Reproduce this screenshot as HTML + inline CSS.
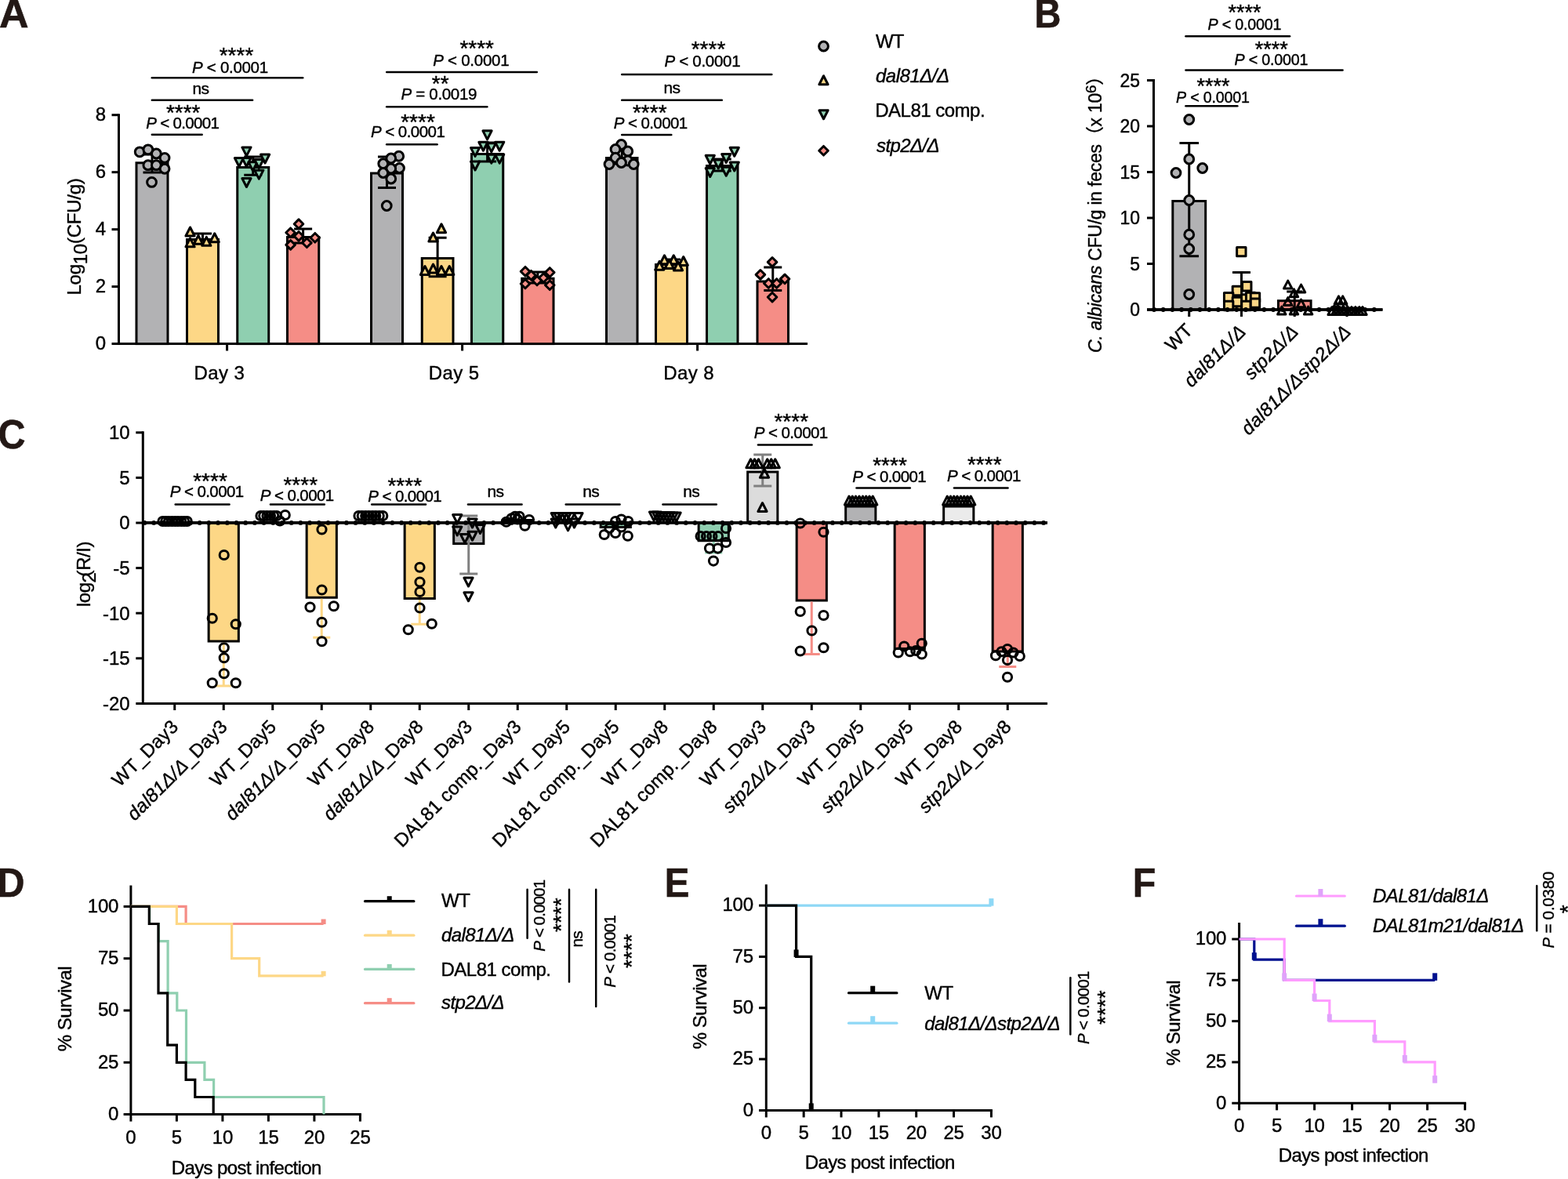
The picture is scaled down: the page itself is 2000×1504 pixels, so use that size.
<!DOCTYPE html>
<html lang="en"><head><meta charset="utf-8"><title>Figure</title>
<style>
html,body{margin:0;padding:0;background:#fff;}
body{width:2000px;height:1504px;overflow:hidden;}
svg{display:block;}
svg text{font-family:"Liberation Sans","Noto Sans CJK SC",sans-serif;stroke:#000;stroke-width:0.4px;fill:#000;}
</style></head><body>
<svg width="2000" height="1504" viewBox="0 0 2000 1504" font-size="24" fill="#000" stroke="none">
<text transform="translate(-1 34.7) scale(1.02 1)" font-size="51" font-weight="bold" style="fill:#231815;stroke:#231815;stroke-width:0.6px">A</text>
<text transform="translate(1319.6 34.7) scale(0.92 1)" font-size="51" font-weight="bold" style="fill:#231815;stroke:#231815;stroke-width:0.6px">B</text>
<text transform="translate(-2.5 572) scale(0.95 1)" font-size="51" font-weight="bold" style="fill:#231815;stroke:#231815;stroke-width:0.6px">C</text>
<text transform="translate(-3.5 1143.8) scale(0.95 1)" font-size="51" font-weight="bold" style="fill:#231815;stroke:#231815;stroke-width:0.6px">D</text>
<text transform="translate(847.75 1144) scale(0.93 1)" font-size="51" font-weight="bold" style="fill:#231815;stroke:#231815;stroke-width:0.6px">E</text>
<text transform="translate(1444.7 1144) scale(0.95 1)" font-size="51" font-weight="bold" style="fill:#231815;stroke:#231815;stroke-width:0.6px">F</text>
<g stroke="#000" stroke-width="3" fill="none" stroke-linejoin="miter">
<path d="M151.5 145.18V440.1"/>
<path d="M142.5 438.6H1030"/>
<path d="M142.5 365.62H151.5"/>
<path d="M142.5 292.64H151.5"/>
<path d="M142.5 219.66H151.5"/>
<path d="M142.5 146.68H151.5"/>
<path d="M289.6 438.6V447.5"/>
<path d="M589.6 438.6V447.5"/>
<path d="M889.6 438.6V447.5"/>
</g>
<text text-anchor="end" x="135" y="446.4">0</text>
<text text-anchor="end" x="135" y="373.42">2</text>
<text text-anchor="end" x="135" y="300.44">4</text>
<text text-anchor="end" x="135" y="227.46">6</text>
<text text-anchor="end" x="135" y="154.48">8</text>
<text text-anchor="middle" letter-spacing="0.4" x="279.8" y="483.5">Day 3</text>
<text text-anchor="middle" letter-spacing="0.4" x="579.2" y="483.5">Day 5</text>
<text text-anchor="middle" letter-spacing="0.4" x="878.7" y="483.5">Day 8</text>
<text text-anchor="middle" letter-spacing="-0.25" transform="translate(103 302) rotate(-90)">Log<tspan dy="7.5">10</tspan><tspan dy="-7.5">(CFU/g)</tspan></text>
<g stroke="#000" stroke-width="3" fill="none" stroke-linejoin="round">
<rect x="174" y="207.75" width="40" height="230.85" fill="#b2b2b4" stroke-linejoin="miter"/>
<rect x="238.5" y="305.5" width="40" height="133.1" fill="#fdd786" stroke-linejoin="miter"/>
<rect x="302.75" y="213.5" width="40" height="225.1" fill="#8fcfb0" stroke-linejoin="miter"/>
<rect x="366.5" y="302.5" width="40.25" height="136.1" fill="#f58d86" stroke-linejoin="miter"/>
<rect x="473.5" y="221" width="40" height="217.6" fill="#b2b2b4" stroke-linejoin="miter"/>
<rect x="538.25" y="329.5" width="39.75" height="109.1" fill="#fdd786" stroke-linejoin="miter"/>
<rect x="601.5" y="196.5" width="40.25" height="242.1" fill="#8fcfb0" stroke-linejoin="miter"/>
<rect x="665.75" y="355.25" width="40.25" height="83.35" fill="#f58d86" stroke-linejoin="miter"/>
<rect x="773.5" y="201.5" width="39.5" height="237.1" fill="#b2b2b4" stroke-linejoin="miter"/>
<rect x="836.5" y="337.5" width="40" height="101.1" fill="#fdd786" stroke-linejoin="miter"/>
<rect x="901.5" y="211.5" width="39.5" height="227.1" fill="#8fcfb0" stroke-linejoin="miter"/>
<rect x="966" y="359" width="39.5" height="79.6" fill="#f58d86" stroke-linejoin="miter"/>
<path d="M194 197V220M182.5 197H205.5M182.5 220H205.5"/>
<circle cx="178.2" cy="193.79" r="5.9" fill="#b2b2b4"/>
<circle cx="188.86" cy="190.8" r="5.9" fill="#b2b2b4"/>
<circle cx="199.39" cy="196" r="5.9" fill="#b2b2b4"/>
<circle cx="210.05" cy="201.46" r="5.9" fill="#b2b2b4"/>
<circle cx="188.86" cy="210.69" r="5.9" fill="#b2b2b4"/>
<circle cx="199.39" cy="210.69" r="5.9" fill="#b2b2b4"/>
<circle cx="210.05" cy="215.24" r="5.9" fill="#b2b2b4"/>
<circle cx="193.54" cy="232.4" r="5.9" fill="#b2b2b4"/>
<path d="M258.5 298V306.5M247 298H270M247 306.5H270"/>
<path d="M242.55 289.96L248.15 300.96L236.95 300.96Z" fill="#fdd786"/>
<path d="M273.75 297.76L279.35 308.76L268.15 308.76Z" fill="#fdd786"/>
<path d="M242.55 303.87L248.15 314.87L236.95 314.87Z" fill="#fdd786"/>
<path d="M263.35 302.31L268.95 313.31L257.75 313.31Z" fill="#fdd786"/>
<path d="M252.95 300.36L258.55 311.36L247.35 311.36Z" fill="#fdd786"/>
<path d="M322.75 199.9V223.3M311.25 199.9H334.25M311.25 223.3H334.25"/>
<path d="M314.45 198.9L320.05 187.9L308.85 187.9Z" fill="#8fcfb0"/>
<path d="M338.11 208L343.71 197L332.51 197Z" fill="#8fcfb0"/>
<path d="M304.96 212.55L310.56 201.55L299.36 201.55Z" fill="#8fcfb0"/>
<path d="M314.45 212.55L320.05 201.55L308.85 201.55Z" fill="#8fcfb0"/>
<path d="M322.51 217.75L328.11 206.75L316.91 206.75Z" fill="#8fcfb0"/>
<path d="M330.31 214.5L335.91 203.5L324.71 203.5Z" fill="#8fcfb0"/>
<path d="M330.31 228.15L335.91 217.15L324.71 217.15Z" fill="#8fcfb0"/>
<path d="M314.45 238.55L320.05 227.55L308.85 227.55Z" fill="#8fcfb0"/>
<path d="M386.62 292V310M375.12 292H398.12M375.12 310H398.12"/>
<path d="M381.01 279.9L386.81 285.7L381.01 291.5L375.21 285.7Z" fill="#f58d86"/>
<path d="M370.61 290.96L376.41 296.76L370.61 302.56L364.81 296.76Z" fill="#f58d86"/>
<path d="M381.01 295.51L386.81 301.31L381.01 307.11L375.21 301.31Z" fill="#f58d86"/>
<path d="M401.81 297.46L407.61 303.26L401.81 309.06L396.01 303.26Z" fill="#f58d86"/>
<path d="M391.41 303.96L397.21 309.76L391.41 315.56L385.61 309.76Z" fill="#f58d86"/>
<path d="M370.61 306.56L376.41 312.36L370.61 318.16L364.81 312.36Z" fill="#f58d86"/>
<path d="M493.5 200V239.5M482 200H505M482 239.5H505"/>
<circle cx="508.75" cy="199.25" r="5.9" fill="#b2b2b4"/>
<circle cx="498.75" cy="202" r="5.9" fill="#b2b2b4"/>
<circle cx="488.75" cy="208.75" r="5.9" fill="#b2b2b4"/>
<circle cx="509.5" cy="214.5" r="5.9" fill="#b2b2b4"/>
<circle cx="498.75" cy="215" r="5.9" fill="#b2b2b4"/>
<circle cx="488.75" cy="220.5" r="5.9" fill="#b2b2b4"/>
<circle cx="498.75" cy="228" r="5.9" fill="#b2b2b4"/>
<circle cx="493.25" cy="262.5" r="5.9" fill="#b2b2b4"/>
<path d="M558.12 303.2V352.7M546.62 303.2H569.62M546.62 352.7H569.62"/>
<path d="M563 285.75L568.6 296.75L557.4 296.75Z" fill="#fdd786"/>
<path d="M552.5 297L558.1 308L546.9 308Z" fill="#fdd786"/>
<path d="M542 339.5L547.6 350.5L536.4 350.5Z" fill="#fdd786"/>
<path d="M552.5 337L558.1 348L546.9 348Z" fill="#fdd786"/>
<path d="M563 339.5L568.6 350.5L557.4 350.5Z" fill="#fdd786"/>
<path d="M573.25 339.5L578.85 350.5L567.65 350.5Z" fill="#fdd786"/>
<path d="M621.62 182V206M610.12 182H633.12M610.12 206H633.12"/>
<path d="M621.53 177.85L627.13 166.85L615.93 166.85Z" fill="#8fcfb0"/>
<path d="M616.42 192.21L622.02 181.21L610.82 181.21Z" fill="#8fcfb0"/>
<path d="M626.8 193.81L632.4 182.81L621.2 182.81Z" fill="#8fcfb0"/>
<path d="M637.17 192.21L642.77 181.21L631.57 181.21Z" fill="#8fcfb0"/>
<path d="M606.05 199.39L611.65 188.39L600.45 188.39Z" fill="#8fcfb0"/>
<path d="M626.8 208.17L632.4 197.17L621.2 197.17Z" fill="#8fcfb0"/>
<path d="M637.17 208.17L642.77 197.17L631.57 197.17Z" fill="#8fcfb0"/>
<path d="M606.05 216.95L611.65 205.95L600.45 205.95Z" fill="#8fcfb0"/>
<path d="M685.88 347V361M674.38 347H697.38M674.38 361H697.38"/>
<path d="M670 340.45L675.8 346.25L670 352.05L664.2 346.25Z" fill="#f58d86"/>
<path d="M701.25 341.7L707.05 347.5L701.25 353.3L695.45 347.5Z" fill="#f58d86"/>
<path d="M677.5 345.45L683.3 351.25L677.5 357.05L671.7 351.25Z" fill="#f58d86"/>
<path d="M693.25 348.7L699.05 354.5L693.25 360.3L687.45 354.5Z" fill="#f58d86"/>
<path d="M685 352.2L690.8 358L685 363.8L679.2 358Z" fill="#f58d86"/>
<path d="M670 356.2L675.8 362L670 367.8L664.2 362Z" fill="#f58d86"/>
<path d="M701.25 357.95L707.05 363.75L701.25 369.55L695.45 363.75Z" fill="#f58d86"/>
<path d="M793.25 192V209M781.75 192H804.75M781.75 209H804.75"/>
<circle cx="792.5" cy="184.5" r="5.9" fill="#b2b2b4"/>
<circle cx="785" cy="190.5" r="5.9" fill="#b2b2b4"/>
<circle cx="800.75" cy="193" r="5.9" fill="#b2b2b4"/>
<circle cx="785" cy="201.25" r="5.9" fill="#b2b2b4"/>
<circle cx="800.75" cy="205" r="5.9" fill="#b2b2b4"/>
<circle cx="777" cy="209.5" r="5.9" fill="#b2b2b4"/>
<circle cx="792.5" cy="207.5" r="5.9" fill="#b2b2b4"/>
<circle cx="808.25" cy="209.5" r="5.9" fill="#b2b2b4"/>
<path d="M856.5 331V342M845 331H868M845 342H868"/>
<path d="M847.5 325.75L853.1 336.75L841.9 336.75Z" fill="#fdd786"/>
<path d="M859.25 325.75L864.85 336.75L853.65 336.75Z" fill="#fdd786"/>
<path d="M871.75 327.5L877.35 338.5L866.15 338.5Z" fill="#fdd786"/>
<path d="M841.25 333.25L846.85 344.25L835.65 344.25Z" fill="#fdd786"/>
<path d="M853.75 331.5L859.35 342.5L848.15 342.5Z" fill="#fdd786"/>
<path d="M865 334L870.6 345L859.4 345Z" fill="#fdd786"/>
<path d="M921.25 203V218M909.75 203H932.75M909.75 218H932.75"/>
<path d="M936.75 199.25L942.35 188.25L931.15 188.25Z" fill="#8fcfb0"/>
<path d="M905.75 209.25L911.35 198.25L900.15 198.25Z" fill="#8fcfb0"/>
<path d="M926.25 207.5L931.85 196.5L920.65 196.5Z" fill="#8fcfb0"/>
<path d="M916.25 215L921.85 204L910.65 204Z" fill="#8fcfb0"/>
<path d="M936.75 218L942.35 207L931.15 207Z" fill="#8fcfb0"/>
<path d="M905.75 225.5L911.35 214.5L900.15 214.5Z" fill="#8fcfb0"/>
<path d="M926.25 224.25L931.85 213.25L920.65 213.25Z" fill="#8fcfb0"/>
<path d="M985.75 341V370.6M974.25 341H997.25M974.25 370.6H997.25"/>
<path d="M985.06 328.56L990.86 334.36L985.06 340.16L979.26 334.36Z" fill="#f58d86"/>
<path d="M969.9 344.52L975.7 350.32L969.9 356.12L964.1 350.32Z" fill="#f58d86"/>
<path d="M1001.02 350.11L1006.82 355.91L1001.02 361.71L995.22 355.91Z" fill="#f58d86"/>
<path d="M980.27 355.69L986.07 361.49L980.27 367.29L974.47 361.49Z" fill="#f58d86"/>
<path d="M990.65 355.69L996.45 361.49L990.65 367.29L984.85 361.49Z" fill="#f58d86"/>
<path d="M985.06 373.25L990.86 379.05L985.06 384.85L979.26 379.05Z" fill="#f58d86"/>
</g>
<g stroke="#000" stroke-width="3" fill="none" stroke-linejoin="round">
<line x1="193.8" y1="99.2" x2="386.2" y2="99.2" stroke-width="2.5" stroke-linecap="round"/>
<text text-anchor="middle" font-size="20.5" letter-spacing="-0.31" x="293.44" y="92.9"><tspan font-style="italic">P</tspan> &lt; 0.0001</text>
<text text-anchor="middle" font-size="28" x="301.5" y="79.82">****</text>
<line x1="193.8" y1="127.8" x2="322.1" y2="127.8" stroke-width="2.5" stroke-linecap="round"/>
<text text-anchor="middle" font-size="21" letter-spacing="-0.5" x="256" y="119.9">ns</text>
<line x1="193.8" y1="171.8" x2="257.7" y2="171.8" stroke-width="2.5" stroke-linecap="round"/>
<text text-anchor="middle" font-size="20.5" letter-spacing="-0.68" x="232.76" y="163.9"><tspan font-style="italic">P</tspan> &lt; 0.0001</text>
<text text-anchor="middle" font-size="28" x="233.7" y="152.62">****</text>
<line x1="493.2" y1="92" x2="684.8" y2="92" stroke-width="2.5" stroke-linecap="round"/>
<text text-anchor="middle" font-size="20.5" letter-spacing="-0.25" x="600.77" y="83.75"><tspan font-style="italic">P</tspan> &lt; 0.0001</text>
<text text-anchor="middle" font-size="28" x="608.2" y="71.02">****</text>
<line x1="493.2" y1="136.25" x2="621.3" y2="136.25" stroke-width="2.5" stroke-linecap="round"/>
<text text-anchor="middle" font-size="20.5" letter-spacing="-0.33" x="559.83" y="127"><tspan font-style="italic">P</tspan> = 0.0019</text>
<text text-anchor="middle" font-size="28" x="561.75" y="116.22">**</text>
<line x1="493.2" y1="184.25" x2="557.55" y2="184.25" stroke-width="2.5" stroke-linecap="round"/>
<text text-anchor="middle" font-size="20.5" letter-spacing="-0.53" x="520.14" y="175"><tspan font-style="italic">P</tspan> &lt; 0.0001</text>
<text text-anchor="middle" font-size="28" x="533" y="164.72">****</text>
<line x1="793.2" y1="95" x2="984.3" y2="95" stroke-width="2.5" stroke-linecap="round"/>
<text text-anchor="middle" font-size="20.5" letter-spacing="-0.28" x="895.86" y="85"><tspan font-style="italic">P</tspan> &lt; 0.0001</text>
<text text-anchor="middle" font-size="28" x="903.5" y="72.22">****</text>
<line x1="793.2" y1="127.75" x2="920.8" y2="127.75" stroke-width="2.5" stroke-linecap="round"/>
<text text-anchor="middle" font-size="21" letter-spacing="-0.5" x="857" y="118.75">ns</text>
<line x1="793.2" y1="172" x2="856.3" y2="172" stroke-width="2.5" stroke-linecap="round"/>
<text text-anchor="middle" font-size="20.5" letter-spacing="-0.61" x="829.69" y="163.75"><tspan font-style="italic">P</tspan> &lt; 0.0001</text>
<text text-anchor="middle" font-size="28" x="828.75" y="153.22">****</text>
</g>
<g stroke="#000" stroke-width="3" fill="none" stroke-linejoin="round">
<circle cx="1050.5" cy="59" r="5.9" fill="#b2b2b4"/>
<path d="M1050.5 96.7L1056.1 107.7L1044.9 107.7Z" fill="#fdd786"/>
<path d="M1050.5 151.7L1056.1 140.7L1044.9 140.7Z" fill="#8fcfb0"/>
<path d="M1050.5 186.45L1056.3 192.25L1050.5 198.05L1044.7 192.25Z" fill="#f58d86"/>
</g>
<text letter-spacing="-0.8" x="1117" y="61.25">WT</text>
<text font-style="italic" letter-spacing="-0.5" x="1117" y="104.6">dal81Δ/Δ</text>
<text letter-spacing="-0.5" x="1116.2" y="149.1">DAL81 comp.</text>
<text font-style="italic" letter-spacing="-0.6" x="1118" y="194">stp2Δ/Δ</text>
<g stroke="#000" stroke-width="3" fill="none" stroke-linejoin="miter">
<path d="M1471.5 101V396.5"/>
<path d="M1463 395H1763.5"/>
<path d="M1463 336.5H1471.5"/>
<path d="M1463 278H1471.5"/>
<path d="M1463 219.5H1471.5"/>
<path d="M1463 161H1471.5"/>
<path d="M1463 102.5H1471.5"/>
<path d="M1516.75 395V404"/>
<path d="M1583.5 395V404"/>
<path d="M1651.25 395V404"/>
<path d="M1718 395V404"/>
</g>
<text text-anchor="end" font-size="23" x="1454" y="403.3">0</text>
<text text-anchor="end" font-size="23" x="1454" y="344.8">5</text>
<text text-anchor="end" font-size="23" x="1454" y="286.3">10</text>
<text text-anchor="end" font-size="23" x="1454" y="227.8">15</text>
<text text-anchor="end" font-size="23" x="1454" y="169.3">20</text>
<text text-anchor="end" font-size="23" x="1454" y="110.8">25</text>
<text text-anchor="middle" font-size="23" letter-spacing="-0.25" transform="translate(1405 268) rotate(-90)"><tspan font-style="italic">C. albicans</tspan> CFU/g in feces（x 10<tspan font-size="19" dy="-7">6</tspan><tspan dy="7">）</tspan></text>
<g stroke="#000" stroke-width="3" fill="none" stroke-linejoin="round">
<rect x="1495.8" y="256.5" width="41.9" height="138.5" fill="#b2b2b4" stroke-linejoin="miter"/>
<rect x="1562.75" y="375.75" width="42" height="19.25" fill="#fdd786" stroke-linejoin="miter"/>
<rect x="1630.5" y="383.7" width="41.6" height="11.3" fill="#f58d86" stroke-linejoin="miter"/>
<rect x="1698" y="393" width="40.5" height="2" fill="#fdd786" stroke-linejoin="miter"/>
<path d="M1516.75 182.5V326.75M1504.45 182.5H1529.05M1504.45 326.75H1529.05"/>
<circle cx="1516.75" cy="152.5" r="5.9" fill="#b2b2b4"/>
<circle cx="1516.75" cy="203" r="5.9" fill="#b2b2b4"/>
<circle cx="1533.75" cy="214.5" r="5.9" fill="#b2b2b4"/>
<circle cx="1500" cy="220.5" r="5.9" fill="#b2b2b4"/>
<circle cx="1516.75" cy="255.5" r="5.9" fill="#b2b2b4"/>
<circle cx="1516.75" cy="299.25" r="5.9" fill="#b2b2b4"/>
<circle cx="1516.75" cy="317.5" r="5.9" fill="#b2b2b4"/>
<circle cx="1516.75" cy="375.5" r="5.9" fill="#b2b2b4"/>
<path d="M1583.5 347.5V395M1572 347.5H1595"/>
<rect x="1577.63" y="315.42" width="11.4" height="11.4" fill="#fdd786"/>
<rect x="1584.56" y="359.48" width="11.4" height="11.4" fill="#fdd786"/>
<rect x="1572.19" y="365.26" width="11.4" height="11.4" fill="#fdd786"/>
<rect x="1561.46" y="373.51" width="11.4" height="11.4" fill="#fdd786"/>
<rect x="1589.51" y="373.18" width="11.4" height="11.4" fill="#fdd786"/>
<rect x="1595.29" y="373.84" width="11.4" height="11.4" fill="#fdd786"/>
<rect x="1572.19" y="379.28" width="11.4" height="11.4" fill="#fdd786"/>
<rect x="1561.46" y="384.23" width="11.4" height="11.4" fill="#fdd786"/>
<rect x="1583.74" y="384.23" width="11.4" height="11.4" fill="#fdd786"/>
<rect x="1595.29" y="380.93" width="11.4" height="11.4" fill="#fdd786"/>
<path d="M1651.25 372V395M1641.25 372H1661.25"/>
<path d="M1642.74 358.14L1647.94 367.94L1637.54 367.94Z" fill="none"/>
<path d="M1659.57 363.09L1664.77 372.89L1654.37 372.89Z" fill="none"/>
<path d="M1650.5 368.86L1655.7 378.66L1645.3 378.66Z" fill="none"/>
<path d="M1642.74 379.59L1647.94 389.39L1637.54 389.39Z" fill="none"/>
<path d="M1659.57 382.06L1664.77 391.86L1654.37 391.86Z" fill="none"/>
<path d="M1634.82 391.14L1640.02 400.94L1629.62 400.94Z" fill="none"/>
<path d="M1650.5 391.14L1655.7 400.94L1645.3 400.94Z" fill="none"/>
<path d="M1668.65 391.14L1673.85 400.94L1663.45 400.94Z" fill="none"/>
<path d="M1707.43 377.94L1712.63 387.74L1702.23 387.74Z" fill="none"/>
<path d="M1712.71 377.94L1717.91 387.74L1707.51 387.74Z" fill="none"/>
<path d="M1704.13 385.53L1709.33 395.33L1698.93 395.33Z" fill="none"/>
<path d="M1715.68 385.53L1720.88 395.33L1710.48 395.33Z" fill="none"/>
<path d="M1699.17 391.63L1704.37 401.43L1693.97 401.43Z" fill="none"/>
<path d="M1704.13 391.3L1709.33 401.1L1698.93 401.1Z" fill="none"/>
<path d="M1709.08 391.63L1714.28 401.43L1703.88 401.43Z" fill="none"/>
<path d="M1714.03 391.3L1719.23 401.1L1708.83 401.1Z" fill="none"/>
<path d="M1718.98 391.63L1724.18 401.43L1713.78 401.43Z" fill="none"/>
<path d="M1723.93 391.63L1729.13 401.43L1718.73 401.43Z" fill="none"/>
<path d="M1728.88 391.63L1734.08 401.43L1723.68 401.43Z" fill="none"/>
<path d="M1733.83 391.63L1739.03 401.43L1728.63 401.43Z" fill="none"/>
<path d="M1737.95 391.63L1743.15 401.43L1732.75 401.43Z" fill="none"/>
<path d="M1463 395H1763.5" stroke-width="3.7" stroke-linejoin="miter"/>
<path d="M1472 395H1763" stroke-width="5.8" stroke-linecap="round" stroke-dasharray="0 11.7"/>
<line x1="1512.45" y1="46.25" x2="1645.05" y2="46.25" stroke-width="2.5" stroke-linecap="round"/>
<text text-anchor="middle" font-size="19.7" letter-spacing="-0.19" x="1587.41" y="37.5"><tspan font-style="italic">P</tspan> &lt; 0.0001</text>
<text text-anchor="middle" font-size="27" x="1587.5" y="25.23">****</text>
<line x1="1512.45" y1="89.5" x2="1712.55" y2="89.5" stroke-width="2.5" stroke-linecap="round"/>
<text text-anchor="middle" font-size="19.7" letter-spacing="-0.19" x="1621.41" y="83.25"><tspan font-style="italic">P</tspan> &lt; 0.0001</text>
<text text-anchor="middle" font-size="27" x="1621.75" y="71.98">****</text>
<line x1="1512.45" y1="135.25" x2="1578.3" y2="135.25" stroke-width="2.5" stroke-linecap="round"/>
<text text-anchor="middle" font-size="19.7" letter-spacing="-0.19" x="1546.91" y="130.75"><tspan font-style="italic">P</tspan> &lt; 0.0001</text>
<text text-anchor="middle" font-size="27" x="1547.5" y="119.48">****</text>
</g>
<text text-anchor="end" letter-spacing="0" transform="translate(1522.5 423) rotate(-45)">WT</text>
<text text-anchor="end" font-style="italic" letter-spacing="0.3" transform="translate(1590.5 424.5) rotate(-45)">dal81Δ/Δ</text>
<text text-anchor="end" font-style="italic" letter-spacing="0.3" transform="translate(1657.5 424.5) rotate(-45)">stp2Δ/Δ</text>
<text text-anchor="end" font-style="italic" letter-spacing="0.3" transform="translate(1724.5 424.5) rotate(-45)">dal81Δ/Δstp2Δ/Δ</text>
<g stroke="#000" stroke-width="3" fill="none" stroke-linejoin="miter">
<path d="M182.3 550.3V898.9"/>
<path d="M173.3 551.8H182.3"/>
<path d="M173.3 609.4H182.3"/>
<path d="M173.3 667H182.3"/>
<path d="M173.3 724.6H182.3"/>
<path d="M173.3 782.2H182.3"/>
<path d="M173.3 839.8H182.3"/>
<path d="M173.3 897.4H1336"/>
<path d="M222.75 897.4V906"/>
<path d="M285.25 897.4V906"/>
<path d="M347.75 897.4V906"/>
<path d="M410.25 897.4V906"/>
<path d="M472.75 897.4V906"/>
<path d="M535.25 897.4V906"/>
<path d="M597.75 897.4V906"/>
<path d="M660.25 897.4V906"/>
<path d="M722.75 897.4V906"/>
<path d="M785.25 897.4V906"/>
<path d="M847.75 897.4V906"/>
<path d="M910.25 897.4V906"/>
<path d="M972.75 897.4V906"/>
<path d="M1035.25 897.4V906"/>
<path d="M1097.75 897.4V906"/>
<path d="M1160.25 897.4V906"/>
<path d="M1222.75 897.4V906"/>
<path d="M1285.25 897.4V906"/>
</g>
<text text-anchor="end" x="165.6" y="560.2">10</text>
<text text-anchor="end" x="165.6" y="617.8">5</text>
<text text-anchor="end" x="165.6" y="675.4">0</text>
<text text-anchor="end" x="165.6" y="733">-5</text>
<text text-anchor="end" x="165.6" y="790.6">-10</text>
<text text-anchor="end" x="165.6" y="848.2">-15</text>
<text text-anchor="end" x="165.6" y="905.8">-20</text>
<text text-anchor="middle" letter-spacing="-0.4" transform="translate(114.5 732.5) rotate(-90)">log<tspan dy="7.5">2</tspan><tspan dy="-7.5" dx="-5">(R/I)</tspan></text>
<g stroke="#000" stroke-width="3" fill="none" stroke-linejoin="round">
<rect x="266.15" y="667" width="38.2" height="151" fill="#fdd786" stroke-linejoin="miter"/>
<rect x="391.15" y="667" width="38.2" height="95.25" fill="#fdd786" stroke-linejoin="miter"/>
<rect x="516.15" y="667" width="38.2" height="96.5" fill="#fdd786" stroke-linejoin="miter"/>
<rect x="578.65" y="667" width="38.2" height="26.5" fill="#b2b2b4" stroke-linejoin="miter"/>
<rect x="766.15" y="667" width="38.2" height="5.5" fill="#8fcfb0" stroke-linejoin="miter"/>
<rect x="891.15" y="667" width="38.2" height="22.75" fill="#8fcfb0" stroke-linejoin="miter"/>
<rect x="953.65" y="602" width="38.2" height="65" fill="#dcdcdc" stroke-linejoin="miter"/>
<rect x="1016.15" y="667" width="38.2" height="99" fill="#f58d86" stroke-linejoin="miter"/>
<rect x="1078.65" y="646" width="38.2" height="21" fill="#b2b2b4" stroke-linejoin="miter"/>
<rect x="1141.15" y="667" width="38.2" height="160.5" fill="#f58d86" stroke-linejoin="miter"/>
<rect x="1203.65" y="646" width="38.2" height="21" fill="#ebebeb" stroke-linejoin="miter"/>
<rect x="1266.15" y="667" width="38.2" height="164" fill="#f58d86" stroke-linejoin="miter"/>
<rect x="641.15" y="663.5" width="38.2" height="3.5" fill="#8fcfb0" stroke-linejoin="miter"/>
<path d="M285.25 819.5V875M275.75 875H294.75" stroke="#fdd786"/>
<path d="M410.25 763.75V813.25M399.25 813.25H421.25" stroke="#fdd786"/>
<path d="M535.25 765V796.25M524.25 796.25H546.25" stroke="#fdd786"/>
<path d="M597.75 658V732M586.25 658H609.25M586.25 732H609.25" stroke="#808080"/>
<path d="M910.25 691V705M899.25 705H921.25" stroke="#8fcfb0"/>
<path d="M972.75 580V620M961.25 580H984.25M961.25 620H984.25" stroke="#808080"/>
<path d="M1035.25 767.5V834.5M1024.75 834.5H1045.75" stroke="#f58d86"/>
<path d="M1285.25 832.5V850.5M1274.25 850.5H1296.25" stroke="#f58d86"/>
<circle cx="207.5" cy="665" r="5.6" fill="none"/>
<circle cx="211.25" cy="665" r="5.6" fill="none"/>
<circle cx="215" cy="665" r="5.6" fill="none"/>
<circle cx="219.25" cy="665" r="5.6" fill="none"/>
<circle cx="223.25" cy="665" r="5.6" fill="none"/>
<circle cx="227" cy="665" r="5.6" fill="none"/>
<circle cx="231.25" cy="665" r="5.6" fill="none"/>
<circle cx="235" cy="665" r="5.6" fill="none"/>
<circle cx="238.75" cy="665" r="5.6" fill="none"/>
<circle cx="285.75" cy="708" r="5.6" fill="none"/>
<circle cx="270.75" cy="788.75" r="5.6" fill="none"/>
<circle cx="300.75" cy="796.25" r="5.6" fill="none"/>
<circle cx="285.75" cy="826.25" r="5.6" fill="none"/>
<circle cx="285.75" cy="839.25" r="5.6" fill="none"/>
<circle cx="285.75" cy="859.25" r="5.6" fill="none"/>
<circle cx="270.75" cy="871.25" r="5.6" fill="none"/>
<circle cx="300.75" cy="871.25" r="5.6" fill="none"/>
<circle cx="332.5" cy="658" r="5.6" fill="none"/>
<circle cx="336.25" cy="658" r="5.6" fill="none"/>
<circle cx="340.5" cy="658" r="5.6" fill="none"/>
<circle cx="345" cy="658" r="5.6" fill="none"/>
<circle cx="349.25" cy="658" r="5.6" fill="none"/>
<circle cx="353" cy="658" r="5.6" fill="none"/>
<circle cx="363.75" cy="657" r="5.6" fill="none"/>
<circle cx="357" cy="664.5" r="5.6" fill="none"/>
<circle cx="410.5" cy="675.5" r="5.6" fill="none"/>
<circle cx="410.5" cy="752.5" r="5.6" fill="none"/>
<circle cx="395.5" cy="774.5" r="5.6" fill="none"/>
<circle cx="425.75" cy="773.25" r="5.6" fill="none"/>
<circle cx="410.5" cy="793.75" r="5.6" fill="none"/>
<circle cx="410.5" cy="818.25" r="5.6" fill="none"/>
<circle cx="457.5" cy="658" r="5.6" fill="none"/>
<circle cx="461.75" cy="658" r="5.6" fill="none"/>
<circle cx="466.25" cy="658" r="5.6" fill="none"/>
<circle cx="470.5" cy="658" r="5.6" fill="none"/>
<circle cx="475" cy="658" r="5.6" fill="none"/>
<circle cx="479.25" cy="658" r="5.6" fill="none"/>
<circle cx="483.75" cy="658" r="5.6" fill="none"/>
<circle cx="488.25" cy="658" r="5.6" fill="none"/>
<circle cx="535.5" cy="723.75" r="5.6" fill="none"/>
<circle cx="535.5" cy="742.5" r="5.6" fill="none"/>
<circle cx="535.5" cy="755" r="5.6" fill="none"/>
<circle cx="535.5" cy="775.5" r="5.6" fill="none"/>
<circle cx="550.75" cy="795.75" r="5.6" fill="none"/>
<circle cx="520.75" cy="803.25" r="5.6" fill="none"/>
<path d="M583.25 667.5L588.85 656.5L577.65 656.5Z" fill="none"/>
<path d="M602.5 673L608.1 662L596.9 662Z" fill="none"/>
<path d="M583.25 683L588.85 672L577.65 672Z" fill="none"/>
<path d="M612.5 680.5L618.1 669.5L606.9 669.5Z" fill="none"/>
<path d="M593 692.5L598.6 681.5L587.4 681.5Z" fill="none"/>
<path d="M602.5 689.25L608.1 678.25L596.9 678.25Z" fill="none"/>
<path d="M597.5 748L603.1 737L591.9 737Z" fill="none"/>
<path d="M597.5 766.75L603.1 755.75L591.9 755.75Z" fill="none"/>
<circle cx="645.75" cy="665.75" r="5.6" fill="none"/>
<circle cx="652.5" cy="661.25" r="5.6" fill="none"/>
<circle cx="657" cy="658.75" r="5.6" fill="none"/>
<circle cx="662.5" cy="658.75" r="5.6" fill="none"/>
<circle cx="675" cy="663" r="5.6" fill="none"/>
<circle cx="669.5" cy="670.75" r="5.6" fill="none"/>
<circle cx="660" cy="662.5" r="5.6" fill="none"/>
<path d="M708.75 673L714.35 662L703.15 662Z" fill="none"/>
<path d="M712.5 665.5L718.1 654.5L706.9 654.5Z" fill="none"/>
<path d="M717.5 665.5L723.1 654.5L711.9 654.5Z" fill="none"/>
<path d="M722.5 665.5L728.1 654.5L716.9 654.5Z" fill="none"/>
<path d="M727.5 665.5L733.1 654.5L721.9 654.5Z" fill="none"/>
<path d="M732.5 673L738.1 662L726.9 662Z" fill="none"/>
<path d="M737.5 665.5L743.1 654.5L731.9 654.5Z" fill="none"/>
<path d="M724.5 676.75L730.1 665.75L718.9 665.75Z" fill="none"/>
<path d="M708.75 665.5L714.35 654.5L703.15 654.5Z" fill="none"/>
<circle cx="770.75" cy="682" r="5.6" fill="none"/>
<circle cx="777.5" cy="673.75" r="5.6" fill="none"/>
<circle cx="785" cy="680" r="5.6" fill="none"/>
<circle cx="785" cy="665" r="5.6" fill="none"/>
<circle cx="792.5" cy="662.5" r="5.6" fill="none"/>
<circle cx="801.25" cy="665" r="5.6" fill="none"/>
<circle cx="800.75" cy="683.75" r="5.6" fill="none"/>
<circle cx="792.5" cy="672.5" r="5.6" fill="none"/>
<path d="M834 664.1L839.6 653.1L828.4 653.1Z" fill="none"/>
<path d="M838 664.1L843.6 653.1L832.4 653.1Z" fill="none"/>
<path d="M842.2 664.5L847.8 653.5L836.6 653.5Z" fill="none"/>
<path d="M846.2 664.5L851.8 653.5L840.6 653.5Z" fill="none"/>
<path d="M850.4 664.7L856 653.7L844.8 653.7Z" fill="none"/>
<path d="M854.4 664.7L860 653.7L848.8 653.7Z" fill="none"/>
<path d="M858.6 664.9L864.2 653.9L853 653.9Z" fill="none"/>
<path d="M862.6 665.1L868.2 654.1L857 654.1Z" fill="none"/>
<circle cx="926" cy="674" r="5.6" fill="none"/>
<circle cx="893.6" cy="684" r="5.6" fill="none"/>
<circle cx="901" cy="684" r="5.6" fill="none"/>
<circle cx="908.4" cy="684" r="5.6" fill="none"/>
<circle cx="916" cy="684" r="5.6" fill="none"/>
<circle cx="926" cy="692" r="5.6" fill="none"/>
<circle cx="905" cy="699.6" r="5.6" fill="none"/>
<circle cx="915.6" cy="699.6" r="5.6" fill="none"/>
<circle cx="910" cy="715.6" r="5.6" fill="none"/>
<path d="M957.5 585.75L963.1 596.75L951.9 596.75Z" fill="none"/>
<path d="M962.5 585.75L968.1 596.75L956.9 596.75Z" fill="none"/>
<path d="M967.5 585.75L973.1 596.75L961.9 596.75Z" fill="none"/>
<path d="M978.75 585.75L984.35 596.75L973.15 596.75Z" fill="none"/>
<path d="M983.75 585.75L989.35 596.75L978.15 596.75Z" fill="none"/>
<path d="M988.75 585.75L994.35 596.75L983.15 596.75Z" fill="none"/>
<path d="M975 598.25L980.6 609.25L969.4 609.25Z" fill="none"/>
<path d="M972.5 641.5L978.1 652.5L966.9 652.5Z" fill="none"/>
<circle cx="1020.75" cy="667.5" r="5.6" fill="none"/>
<circle cx="1050.5" cy="678.75" r="5.6" fill="none"/>
<circle cx="1020.75" cy="780" r="5.6" fill="none"/>
<circle cx="1050.5" cy="785" r="5.6" fill="none"/>
<circle cx="1035.5" cy="804.5" r="5.6" fill="none"/>
<circle cx="1020.75" cy="830.5" r="5.6" fill="none"/>
<circle cx="1050.5" cy="826.25" r="5.6" fill="none"/>
<path d="M1083 633L1088.6 644L1077.4 644Z" fill="none"/>
<path d="M1087.25 633L1092.85 644L1081.65 644Z" fill="none"/>
<path d="M1091.5 633L1097.1 644L1085.9 644Z" fill="none"/>
<path d="M1096 633L1101.6 644L1090.4 644Z" fill="none"/>
<path d="M1100.5 633L1106.1 644L1094.9 644Z" fill="none"/>
<path d="M1104.75 633L1110.35 644L1099.15 644Z" fill="none"/>
<path d="M1109 633L1114.6 644L1103.4 644Z" fill="none"/>
<path d="M1113.25 633L1118.85 644L1107.65 644Z" fill="none"/>
<circle cx="1145.75" cy="832.5" r="5.6" fill="none"/>
<circle cx="1153.25" cy="824.5" r="5.6" fill="none"/>
<circle cx="1160.75" cy="831.25" r="5.6" fill="none"/>
<circle cx="1168.25" cy="830" r="5.6" fill="none"/>
<circle cx="1175.75" cy="820.75" r="5.6" fill="none"/>
<circle cx="1175.75" cy="834.5" r="5.6" fill="none"/>
<path d="M1208.25 633L1213.85 644L1202.65 644Z" fill="none"/>
<path d="M1212.5 633L1218.1 644L1206.9 644Z" fill="none"/>
<path d="M1216.75 633L1222.35 644L1211.15 644Z" fill="none"/>
<path d="M1221 633L1226.6 644L1215.4 644Z" fill="none"/>
<path d="M1225.5 633L1231.1 644L1219.9 644Z" fill="none"/>
<path d="M1229.75 633L1235.35 644L1224.15 644Z" fill="none"/>
<path d="M1234 633L1239.6 644L1228.4 644Z" fill="none"/>
<path d="M1238.25 633L1243.85 644L1232.65 644Z" fill="none"/>
<circle cx="1270" cy="836.25" r="5.6" fill="none"/>
<circle cx="1277.5" cy="831.25" r="5.6" fill="none"/>
<circle cx="1285" cy="828" r="5.6" fill="none"/>
<circle cx="1292.5" cy="832.5" r="5.6" fill="none"/>
<circle cx="1300.75" cy="837" r="5.6" fill="none"/>
<circle cx="1285" cy="842" r="5.6" fill="none"/>
<circle cx="1285" cy="863.75" r="5.6" fill="none"/>
<path d="M181.5 666.9H1336" stroke-width="3.7"/>
<path d="M184.5 666.9H1336" stroke-width="5.8" stroke-linecap="round" stroke-dasharray="0 11.7"/>
<line x1="223.7" y1="643.5" x2="292.55" y2="643.5" stroke-width="2.5" stroke-linecap="round"/>
<text text-anchor="middle" font-size="20.5" letter-spacing="-0.61" x="263.69" y="634.25"><tspan font-style="italic">P</tspan> &lt; 0.0001</text>
<text text-anchor="middle" font-size="28" x="268" y="623.22">****</text>
<line x1="344.95" y1="643.5" x2="413.8" y2="643.5" stroke-width="2.5" stroke-linecap="round"/>
<text text-anchor="middle" font-size="20.5" letter-spacing="-0.61" x="378.69" y="638.75"><tspan font-style="italic">P</tspan> &lt; 0.0001</text>
<text text-anchor="middle" font-size="28" x="383.25" y="628.22">****</text>
<line x1="474.2" y1="643.5" x2="543.05" y2="643.5" stroke-width="2.5" stroke-linecap="round"/>
<text text-anchor="middle" font-size="20.5" letter-spacing="-0.61" x="516.19" y="639.5"><tspan font-style="italic">P</tspan> &lt; 0.0001</text>
<text text-anchor="middle" font-size="28" x="516.25" y="629.22">****</text>
<line x1="596.95" y1="643.5" x2="665.55" y2="643.5" stroke-width="2.5" stroke-linecap="round"/>
<text text-anchor="middle" font-size="21" letter-spacing="-0.5" x="632" y="633.75">ns</text>
<line x1="721.7" y1="643.5" x2="790.55" y2="643.5" stroke-width="2.5" stroke-linecap="round"/>
<text text-anchor="middle" font-size="21" letter-spacing="-0.5" x="753.75" y="633.75">ns</text>
<line x1="845.45" y1="643.5" x2="913.8" y2="643.5" stroke-width="2.5" stroke-linecap="round"/>
<text text-anchor="middle" font-size="21" letter-spacing="-0.5" x="881.75" y="633.75">ns</text>
<line x1="966.95" y1="567.5" x2="1035.55" y2="567.5" stroke-width="2.5" stroke-linecap="round"/>
<text text-anchor="middle" font-size="20.5" letter-spacing="-0.61" x="1008.69" y="558.75"><tspan font-style="italic">P</tspan> &lt; 0.0001</text>
<text text-anchor="middle" font-size="28" x="1009.25" y="547.47">****</text>
<line x1="1092.45" y1="622.5" x2="1160.8" y2="622.5" stroke-width="2.5" stroke-linecap="round"/>
<text text-anchor="middle" font-size="20.5" letter-spacing="-0.61" x="1134.19" y="614.5"><tspan font-style="italic">P</tspan> &lt; 0.0001</text>
<text text-anchor="middle" font-size="28" x="1135" y="603.22">****</text>
<line x1="1216.95" y1="622.5" x2="1285.55" y2="622.5" stroke-width="2.5" stroke-linecap="round"/>
<text text-anchor="middle" font-size="20.5" letter-spacing="-0.61" x="1254.94" y="613.75"><tspan font-style="italic">P</tspan> &lt; 0.0001</text>
<text text-anchor="middle" font-size="28" x="1255.75" y="602.47">****</text>
</g>
<text text-anchor="end" letter-spacing="0.15" transform="translate(228.75 928.5) rotate(-45)">WT_Day3</text>
<text text-anchor="end" letter-spacing="0.15" transform="translate(291.25 928.5) rotate(-45)"><tspan font-style="italic">dal81Δ/Δ</tspan>_Day3</text>
<text text-anchor="end" letter-spacing="0.15" transform="translate(353.75 928.5) rotate(-45)">WT_Day5</text>
<text text-anchor="end" letter-spacing="0.15" transform="translate(416.25 928.5) rotate(-45)"><tspan font-style="italic">dal81Δ/Δ</tspan>_Day5</text>
<text text-anchor="end" letter-spacing="0.15" transform="translate(478.75 928.5) rotate(-45)">WT_Day8</text>
<text text-anchor="end" letter-spacing="0.15" transform="translate(541.25 928.5) rotate(-45)"><tspan font-style="italic">dal81Δ/Δ</tspan>_Day8</text>
<text text-anchor="end" letter-spacing="0.15" transform="translate(603.75 928.5) rotate(-45)">WT_Day3</text>
<text text-anchor="end" letter-spacing="0.15" transform="translate(666.25 928.5) rotate(-45)">DAL81 comp._Day3</text>
<text text-anchor="end" letter-spacing="0.15" transform="translate(728.75 928.5) rotate(-45)">WT_Day5</text>
<text text-anchor="end" letter-spacing="0.15" transform="translate(791.25 928.5) rotate(-45)">DAL81 comp._Day5</text>
<text text-anchor="end" letter-spacing="0.15" transform="translate(853.75 928.5) rotate(-45)">WT_Day8</text>
<text text-anchor="end" letter-spacing="0.15" transform="translate(916.25 928.5) rotate(-45)">DAL81 comp._Day8</text>
<text text-anchor="end" letter-spacing="0.15" transform="translate(978.75 928.5) rotate(-45)">WT_Day3</text>
<text text-anchor="end" letter-spacing="0.15" transform="translate(1041.25 928.5) rotate(-45)"><tspan font-style="italic">stp2Δ/Δ</tspan>_Day3</text>
<text text-anchor="end" letter-spacing="0.15" transform="translate(1103.75 928.5) rotate(-45)">WT_Day5</text>
<text text-anchor="end" letter-spacing="0.15" transform="translate(1166.25 928.5) rotate(-45)"><tspan font-style="italic">stp2Δ/Δ</tspan>_Day5</text>
<text text-anchor="end" letter-spacing="0.15" transform="translate(1228.75 928.5) rotate(-45)">WT_Day8</text>
<text text-anchor="end" letter-spacing="0.15" transform="translate(1291.25 928.5) rotate(-45)"><tspan font-style="italic">stp2Δ/Δ</tspan>_Day8</text>
<g stroke="#000" stroke-width="3" fill="none" stroke-linejoin="miter">
<path d="M166.9 1129.5V1423.1"/>
<path d="M157.6 1421.6H460.9"/>
<path d="M157.6 1355.3H166.9"/>
<path d="M157.6 1289H166.9"/>
<path d="M157.6 1222.7H166.9"/>
<path d="M157.6 1156.4H166.9"/>
<path d="M166.9 1421.6V1430.6"/>
<path d="M225.4 1421.6V1430.6"/>
<path d="M283.9 1421.6V1430.6"/>
<path d="M342.4 1421.6V1430.6"/>
<path d="M400.9 1421.6V1430.6"/>
<path d="M459.4 1421.6V1430.6"/>
</g>
<text text-anchor="end" letter-spacing="-0.3" x="151" y="1429">0</text>
<text text-anchor="end" letter-spacing="-0.3" x="151" y="1362.7">25</text>
<text text-anchor="end" letter-spacing="-0.3" x="151" y="1296.4">50</text>
<text text-anchor="end" letter-spacing="-0.3" x="151" y="1230.1">75</text>
<text text-anchor="end" letter-spacing="-0.3" x="151" y="1163.8">100</text>
<text text-anchor="middle" letter-spacing="-0.3" x="166.9" y="1458.7">0</text>
<text text-anchor="middle" letter-spacing="-0.3" x="225.4" y="1458.7">5</text>
<text text-anchor="middle" letter-spacing="-0.3" x="283.9" y="1458.7">10</text>
<text text-anchor="middle" letter-spacing="-0.3" x="342.4" y="1458.7">15</text>
<text text-anchor="middle" letter-spacing="-0.3" x="400.9" y="1458.7">20</text>
<text text-anchor="middle" letter-spacing="-0.3" x="459.4" y="1458.7">25</text>
<text text-anchor="middle" letter-spacing="-0.62" x="314.3" y="1498.3">Days post infection</text>
<text text-anchor="middle" letter-spacing="-0.5" transform="translate(91 1287) rotate(-90)">% Survival</text>
<g stroke="#000" stroke-width="3" fill="none" stroke-linejoin="miter">
<path d="M166.9 1156.4H237.1V1178.5H412.6" stroke="#f58d86" stroke-width="3.2" stroke-linejoin="miter"/>
<rect x="409.6" y="1172.5" width="6" height="6.5" fill="#f58d86" stroke="none"/>
<path d="M167.3 1156.4H190.7V1178.5H202.4V1200.6H214.1V1266.9H225.8V1289H237.5V1355.3H260.9V1377.4H272.6V1399.5H413V1421.6" stroke="#8fcfb0" stroke-width="3.2" stroke-linejoin="miter"/>
<path d="M166.9 1156.4H225.4V1178.5H295.6V1222.7H330.7V1244.8H412.6" stroke="#fdd786" stroke-width="3.2" stroke-linejoin="miter"/>
<rect x="409.6" y="1238.8" width="6" height="6.5" fill="#fdd786" stroke="none"/>
<path d="M166.9 1156.4H190.3V1178.5H202V1266.9H213.7V1333.2H225.4V1355.3H237.1V1377.4H248.8V1399.5H272.2V1421.6" stroke-width="3.2" stroke-linejoin="miter"/>
<path d="M465.5 1149.7H527.9" stroke-width="3.2" stroke-linecap="round"/>
<rect x="493.7" y="1143.2" width="6" height="7" fill="#000" stroke="none"/>
<path d="M465.5 1193.2H527.9" stroke="#fdd786" stroke-width="3.2" stroke-linecap="round"/>
<rect x="493.7" y="1186.7" width="6" height="7" fill="#fdd786" stroke="none"/>
<path d="M465.5 1236.4H527.9" stroke="#8fcfb0" stroke-width="3.2" stroke-linecap="round"/>
<rect x="493.7" y="1229.9" width="6" height="7" fill="#8fcfb0" stroke="none"/>
<path d="M465.5 1279.7H527.9" stroke="#f58d86" stroke-width="3.2" stroke-linecap="round"/>
<rect x="493.7" y="1273.2" width="6" height="7" fill="#f58d86" stroke="none"/>
<line x1="672.6" y1="1134.8" x2="672.6" y2="1196.8" stroke-width="2.5" stroke-linecap="round"/>
<line x1="726" y1="1134.8" x2="726" y2="1252.4" stroke-width="2.5" stroke-linecap="round"/>
<line x1="760.2" y1="1134.8" x2="760.2" y2="1284.1" stroke-width="2.5" stroke-linecap="round"/>
</g>
<text letter-spacing="-0.5" x="563" y="1157.2">WT</text>
<text font-style="italic" letter-spacing="-0.6" x="563" y="1201.3">dal81Δ/Δ</text>
<text letter-spacing="-0.5" x="562.5" y="1245">DAL81 comp.</text>
<text font-style="italic" letter-spacing="-0.6" x="563" y="1287.2">stp2Δ/Δ</text>
<text text-anchor="middle" font-size="20.5" letter-spacing="-0.89" transform="translate(694.6 1168.24) rotate(-90)"><tspan font-style="italic">P</tspan> &lt; 0.0001</text>
<text text-anchor="middle" font-size="28" transform="translate(725.02 1167.2) rotate(-90)">****</text>
<text text-anchor="middle" font-size="21" letter-spacing="-1" transform="translate(743 1198.4) rotate(-90)">ns</text>
<text text-anchor="middle" font-size="20.5" letter-spacing="-0.78" transform="translate(785.2 1213.89) rotate(-90)"><tspan font-style="italic">P</tspan> &lt; 0.0001</text>
<text text-anchor="middle" font-size="28" transform="translate(815.02 1213.1) rotate(-90)">****</text>
<g stroke="#000" stroke-width="3" fill="none" stroke-linejoin="miter">
<path d="M977.3 1128.2V1417.9"/>
<path d="M968 1416.4H1265.9"/>
<path d="M968 1351.08H977.3"/>
<path d="M968 1285.75H977.3"/>
<path d="M968 1220.43H977.3"/>
<path d="M968 1155.1H977.3"/>
<path d="M977.3 1416.4V1425.4"/>
<path d="M1025.15 1416.4V1425.4"/>
<path d="M1073 1416.4V1425.4"/>
<path d="M1120.85 1416.4V1425.4"/>
<path d="M1168.7 1416.4V1425.4"/>
<path d="M1216.55 1416.4V1425.4"/>
<path d="M1264.4 1416.4V1425.4"/>
</g>
<text text-anchor="end" letter-spacing="-0.3" x="960.7" y="1423.5">0</text>
<text text-anchor="end" letter-spacing="-0.3" x="960.7" y="1358.17">25</text>
<text text-anchor="end" letter-spacing="-0.3" x="960.7" y="1292.85">50</text>
<text text-anchor="end" letter-spacing="-0.3" x="960.7" y="1227.53">75</text>
<text text-anchor="end" letter-spacing="-0.3" x="960.7" y="1162.2">100</text>
<text text-anchor="middle" letter-spacing="-0.3" x="977.3" y="1452.7">0</text>
<text text-anchor="middle" letter-spacing="-0.3" x="1025.15" y="1452.7">5</text>
<text text-anchor="middle" letter-spacing="-0.3" x="1073" y="1452.7">10</text>
<text text-anchor="middle" letter-spacing="-0.3" x="1120.85" y="1452.7">15</text>
<text text-anchor="middle" letter-spacing="-0.3" x="1168.7" y="1452.7">20</text>
<text text-anchor="middle" letter-spacing="-0.3" x="1216.55" y="1452.7">25</text>
<text text-anchor="middle" letter-spacing="-0.3" x="1264.4" y="1452.7">30</text>
<text text-anchor="middle" letter-spacing="-0.62" x="1122.2" y="1490.6">Days post infection</text>
<text text-anchor="middle" letter-spacing="-0.5" transform="translate(900.5 1284) rotate(-90)">% Survival</text>
<g stroke="#000" stroke-width="3" fill="none" stroke-linejoin="miter">
<path d="M977.3 1155.1H1264.4" stroke="#8ed8f6" stroke-width="3.2" stroke-linejoin="miter"/>
<rect x="1261.4" y="1146.1" width="6" height="9.5" fill="#8ed8f6" stroke="none"/>
<path d="M977.3 1155.1H1015.58V1220.43H1034.72V1416.4" stroke-width="3.2" stroke-linejoin="miter"/>
<rect x="1012.58" y="1211.43" width="6" height="9.5" fill="#000" stroke="none"/>
<rect x="1031.72" y="1407.4" width="6" height="9.5" fill="#000" stroke="none"/>
<path d="M1082.5 1266.7H1143.9" stroke-width="3.2" stroke-linecap="round"/>
<rect x="1110.2" y="1257.7" width="6" height="9.5" fill="#000" stroke="none"/>
<path d="M1082.5 1305.2H1143.9" stroke="#8ed8f6" stroke-width="3.2" stroke-linecap="round"/>
<rect x="1110.2" y="1296.2" width="6" height="9.5" fill="#8ed8f6" stroke="none"/>
<line x1="1365.3" y1="1247.2" x2="1365.3" y2="1319.4" stroke-width="2.5" stroke-linecap="round"/>
</g>
<text letter-spacing="-0.5" x="1179.3" y="1274.6">WT</text>
<text font-style="italic" letter-spacing="-0.6" x="1179.3" y="1313.5">dal81Δ/Δstp2Δ/Δ</text>
<text text-anchor="middle" font-size="20.5" letter-spacing="-0.7" transform="translate(1389.25 1285.55) rotate(-90)"><tspan font-style="italic">P</tspan> &lt; 0.0001</text>
<text text-anchor="middle" font-size="28" transform="translate(1418.72 1285.2) rotate(-90)">****</text>
<g stroke="#000" stroke-width="3" fill="none" stroke-linejoin="miter">
<path d="M1580.6 1177V1408.8"/>
<path d="M1571.3 1407.3H1870.1"/>
<path d="M1571.3 1354.97H1580.6"/>
<path d="M1571.3 1302.65H1580.6"/>
<path d="M1571.3 1250.33H1580.6"/>
<path d="M1571.3 1198H1580.6"/>
<path d="M1580.6 1407.3V1416.3"/>
<path d="M1628.6 1407.3V1416.3"/>
<path d="M1676.6 1407.3V1416.3"/>
<path d="M1724.6 1407.3V1416.3"/>
<path d="M1772.6 1407.3V1416.3"/>
<path d="M1820.6 1407.3V1416.3"/>
<path d="M1868.6 1407.3V1416.3"/>
</g>
<text text-anchor="end" letter-spacing="-0.3" x="1564" y="1414.6">0</text>
<text text-anchor="end" letter-spacing="-0.3" x="1564" y="1362.27">25</text>
<text text-anchor="end" letter-spacing="-0.3" x="1564" y="1309.95">50</text>
<text text-anchor="end" letter-spacing="-0.3" x="1564" y="1257.62">75</text>
<text text-anchor="end" letter-spacing="-0.3" x="1564" y="1205.3">100</text>
<text text-anchor="middle" letter-spacing="-0.3" x="1580.6" y="1444">0</text>
<text text-anchor="middle" letter-spacing="-0.3" x="1628.6" y="1444">5</text>
<text text-anchor="middle" letter-spacing="-0.3" x="1676.6" y="1444">10</text>
<text text-anchor="middle" letter-spacing="-0.3" x="1724.6" y="1444">15</text>
<text text-anchor="middle" letter-spacing="-0.3" x="1772.6" y="1444">20</text>
<text text-anchor="middle" letter-spacing="-0.3" x="1820.6" y="1444">25</text>
<text text-anchor="middle" letter-spacing="-0.3" x="1868.6" y="1444">30</text>
<text text-anchor="middle" letter-spacing="-0.62" x="1726.2" y="1481.5">Days post infection</text>
<text text-anchor="middle" letter-spacing="-0.5" transform="translate(1504.5 1305) rotate(-90)">% Survival</text>
<g stroke="#000" stroke-width="3" fill="none" stroke-linejoin="miter">
<path d="M1580.6 1198H1599.8V1224.16H1638.2V1250.33H1830.2" stroke="#00118f" stroke-width="3.2" stroke-linejoin="miter"/>
<rect x="1596.8" y="1215.16" width="6" height="9.5" fill="#00118f" stroke="none"/>
<rect x="1827.2" y="1241.33" width="6" height="9.5" fill="#00118f" stroke="none"/>
<path d="M1580.6 1198H1638.2V1250.33H1676.6V1276.49H1695.8V1302.65H1753.4V1328.81H1791.8V1354.97H1830.2V1381.14" stroke="#ff9cff" stroke-width="3.2" stroke-linejoin="miter"/>
<rect x="1635.2" y="1241.33" width="6" height="9.5" fill="#dfa3fa" stroke="none"/>
<rect x="1673.6" y="1267.49" width="6" height="9.5" fill="#dfa3fa" stroke="none"/>
<rect x="1692.8" y="1293.65" width="6" height="9.5" fill="#dfa3fa" stroke="none"/>
<rect x="1750.4" y="1319.81" width="6" height="9.5" fill="#dfa3fa" stroke="none"/>
<rect x="1788.8" y="1345.97" width="6" height="9.5" fill="#dfa3fa" stroke="none"/>
<rect x="1827.2" y="1372.14" width="6" height="9.5" fill="#dfa3fa" stroke="none"/>
<path d="M1653.5 1143H1715.3" stroke="#ff9cff" stroke-width="3.2" stroke-linecap="round"/>
<rect x="1681.4" y="1134" width="6" height="9.5" fill="#dfa3fa" stroke="none"/>
<path d="M1653.5 1181.2H1715.3" stroke="#00118f" stroke-width="3.2" stroke-linecap="round"/>
<rect x="1681.4" y="1172.2" width="6" height="9.5" fill="#00118f" stroke="none"/>
<line x1="1960.2" y1="1129.9" x2="1960.2" y2="1187.3" stroke-width="2.5" stroke-linecap="round"/>
</g>
<text font-style="italic" letter-spacing="-0.6" x="1751" y="1151">DAL81/dal81Δ</text>
<text font-style="italic" letter-spacing="-0.6" x="1751" y="1188.5">DAL81m21/dal81Δ</text>
<text text-anchor="middle" font-size="20.5" letter-spacing="-0.22" transform="translate(1981.8 1160.61) rotate(-90)"><tspan font-style="italic">P</tspan> = 0.0380</text>
<text text-anchor="middle" font-size="28" transform="translate(2009.22 1159.8) rotate(-90)">*</text>
</svg>
</body></html>
